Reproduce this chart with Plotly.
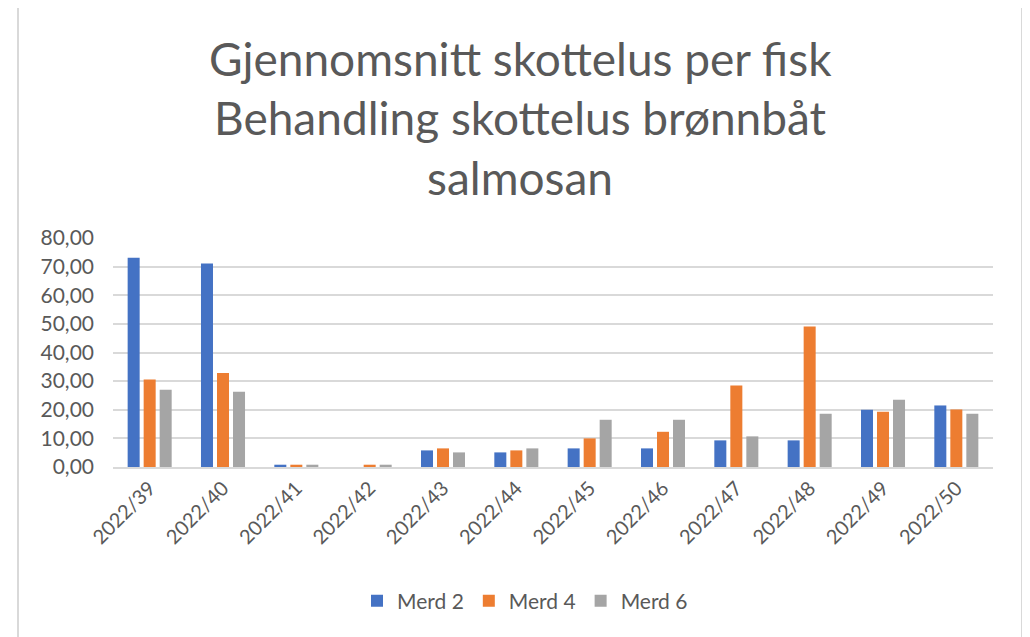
import plotly.graph_objects as go

weeks = ["2022/39", "2022/40", "2022/41", "2022/42", "2022/43", "2022/44",
         "2022/45", "2022/46", "2022/47", "2022/48", "2022/49", "2022/50"]
merd2 = [73.1, 71.1, 0.8, 0.0, 5.8, 5.1, 6.5, 6.5, 9.3, 9.3, 20.0, 21.5]
merd4 = [30.6, 32.8, 0.8, 0.8, 6.5, 5.8, 10.0, 12.3, 28.5, 49.1, 19.3, 20.1]
merd6 = [27.0, 26.3, 0.8, 0.8, 5.1, 6.5, 16.5, 16.5, 10.7, 18.6, 23.5, 18.6]
series_names = ["Merd 2", "Merd 4", "Merd 6"]
series_colors = ["#4472C4", "#ED7D31", "#A5A5A5"]
title_lines = ["Gjennomsnitt skottelus per fisk",
               "Behandling skottelus brønnbåt",
               "salmosan"]
y_ticks = [0, 10, 20, 30, 40, 50, 60, 70, 80]
y_tick_labels = ["0,00", "10,00", "20,00", "30,00", "40,00", "50,00", "60,00", "70,00", "80,00"]

W, H = 1030, 637
OFF = 8  # page body margin offset
L, T = 113 - OFF, 238 - OFF
pw, ph = 880, 229
R, B = W - L - pw, H - T - ph

def px_x(x):
    return (x - OFF - L) / pw

def px_y(y):
    return (T + ph - (y - OFF)) / ph

fig = go.Figure()
for name, vals, col in zip(series_names, [merd2, merd4, merd6], series_colors):
    fig.add_trace(go.Bar(name=name, x=weeks, y=vals, marker=dict(color=col, line=dict(width=0))))

font_family = "Lato, 'Open Sans', sans-serif"
txt = "#595959"

for i, (line, yc) in enumerate(zip(title_lines, [58, 117, 177])):
    fig.add_annotation(text=line, xref="paper", yref="paper", x=px_x(520), y=px_y(yc),
                       xanchor="center", yanchor="middle", showarrow=False,
                       font=dict(family=font_family, size=46, color=txt))

# frame
fig.add_shape(type="rect", xref="paper", yref="paper",
              x0=px_x(18), x1=px_x(1022), y0=px_y(660), y1=px_y(5),
              line=dict(color="#D9D9D9", width=2), layer="below")

fig.update_layout(
    width=W, height=H,
    margin=dict(l=L, r=R, t=T, b=B, autoexpand=False),
    paper_bgcolor="white", plot_bgcolor="white",
    barmode="group", bargap=0.345, bargroupgap=0.25,
    showlegend=True,
    legend=dict(orientation="h", x=px_x(525), y=px_y(601), xanchor="center", yanchor="middle",
                font=dict(family=font_family, size=21, color=txt),
                tracegroupgap=0),
    font=dict(family=font_family, color=txt),
)
fig.update_xaxes(showgrid=False, showline=True, linecolor="#D9D9D9", linewidth=1.5,
                 tickangle=-45, tickfont=dict(family=font_family, size=20, color=txt),
                 ticks="", automargin=False, fixedrange=True)
fig.update_yaxes(range=[0, 80], tickvals=y_ticks, ticktext=y_tick_labels,
                 showgrid=True, gridcolor="#D9D9D9", gridwidth=1.5, zeroline=False,
                 showline=False, ticks="", ticklabelstandoff=18, automargin=False,
                 tickfont=dict(family=font_family, size=21, color=txt), fixedrange=True)

fig.write_html("out.html", config={"displayModeBar": False})
